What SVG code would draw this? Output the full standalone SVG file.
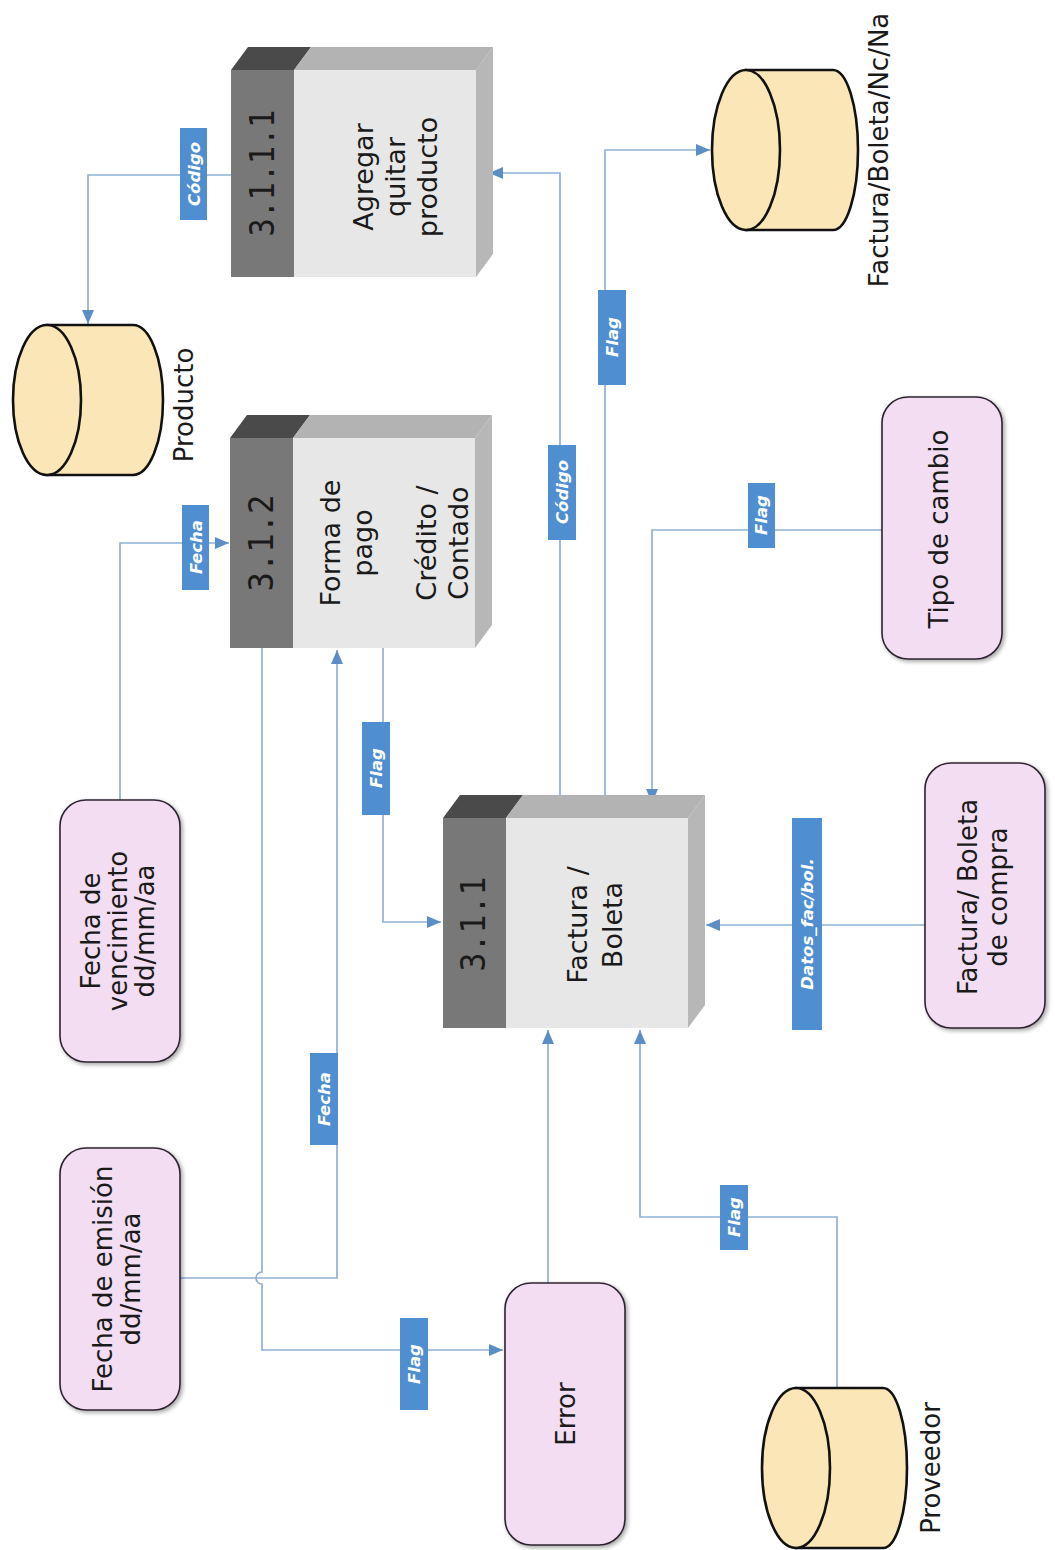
<svg xmlns="http://www.w3.org/2000/svg" width="1055" height="1550" viewBox="0 0 1055 1550">
<style>
.strip{fill:#787878}
.front{fill:#e7e7e7}
.topd{fill:#4a4a4a}
.topl{fill:#b3b3b3}
.side{fill:#b7b7b7}
.pid{font-family:"DejaVu Sans Mono",monospace;font-size:34px;fill:#1a1a1a;text-anchor:middle}
.ptxt{font-family:"DejaVu Sans",sans-serif;font-size:27px;fill:#1a1a1a;text-anchor:middle}
.ent{fill:#f3ddf3;stroke:#2e2430;stroke-width:1.6}
.etxt{font-family:"DejaVu Sans",sans-serif;font-size:26px;fill:#1a1a1a;text-anchor:middle}
.cyl{fill:#fbe6b8;stroke:#111;stroke-width:2.6}
.conn{fill:none;stroke:#8fb1d6;stroke-width:1.7}
.lbl{fill:#4f8ed0}
.ltxt{font-family:"DejaVu Sans",sans-serif;font-size:16.5px;font-weight:bold;font-style:italic;fill:#fff;text-anchor:middle}
</style>
<defs>
<marker id="arr" markerUnits="userSpaceOnUse" markerWidth="14" markerHeight="12" refX="14" refY="6" orient="auto">
<path d="M0,0 L14,6 L0,12 z" fill="#5b8ec6"/>
</marker>
<filter id="sh" x="-10%" y="-10%" width="130%" height="130%">
<feDropShadow dx="2" dy="2" stdDeviation="2" flood-color="#000" flood-opacity="0.35"/>
</filter>
</defs>

<g id="connectors">
<path class="conn" d="M231,175 H88 V324" marker-end="url(#arr)"/>
<path class="conn" d="M120,800 V543 H229" marker-end="url(#arr)"/>
<path class="conn" d="M180,1278 H337 V650" marker-end="url(#arr)"/>
<path class="conn" d="M262,648 V1272 A6,6 0 0 0 262,1284 V1350 H503" marker-end="url(#arr)"/>
<path class="conn" d="M383,648 V922 H441" marker-end="url(#arr)"/>
<path class="conn" d="M548,1283 V1030" marker-end="url(#arr)"/>
<path class="conn" d="M837,1388 V1217 H640 V1030" marker-end="url(#arr)"/>
<path class="conn" d="M925,925 H706" marker-end="url(#arr)"/>
<path class="conn" d="M882,530 H652 V803" marker-end="url(#arr)"/>
<path class="conn" d="M560,806 V173 H489" marker-end="url(#arr)"/>
<path class="conn" d="M605,806 V150 H710" marker-end="url(#arr)"/>

<rect class="lbl" x="180" y="128" width="27" height="92"/>
<text class="ltxt" transform="translate(199.5,174) rotate(-90)">Código</text>
<rect class="lbl" x="182" y="505" width="27" height="85"/>
<text class="ltxt" transform="translate(201.5,547) rotate(-90)">Fecha</text>
<rect class="lbl" x="548" y="445" width="28" height="95"/>
<text class="ltxt" transform="translate(568,492) rotate(-90)">Código</text>
<rect class="lbl" x="598" y="290" width="28" height="95"/>
<text class="ltxt" transform="translate(618,337) rotate(-90)">Flag</text>
<rect class="lbl" x="748" y="483" width="27" height="65"/>
<text class="ltxt" transform="translate(767,515) rotate(-90)">Flag</text>
<rect class="lbl" x="362" y="722" width="28" height="93"/>
<text class="ltxt" transform="translate(382,768) rotate(-90)">Flag</text>
<rect class="lbl" x="792" y="818" width="30" height="212"/>
<text class="ltxt" transform="translate(813,924) rotate(-90)">Datos_fac/bol.</text>
<rect class="lbl" x="310" y="1053" width="28" height="92"/>
<text class="ltxt" transform="translate(330,1099) rotate(-90)">Fecha</text>
<rect class="lbl" x="400" y="1318" width="28" height="92"/>
<text class="ltxt" transform="translate(420,1364) rotate(-90)">Flag</text>
<rect class="lbl" x="720" y="1185" width="28" height="65"/>
<text class="ltxt" transform="translate(740,1217) rotate(-90)">Flag</text>
</g>

<g id="p3111">
<polygon class="topd" points="231,70 294,70 311,47 248,47"/>
<polygon class="topl" points="294,70 476,70 493,47 311,47"/>
<polygon class="side" points="476,70 493,47 493,254 476,277"/>
<rect class="strip" x="231" y="70" width="63" height="207"/>
<rect class="front" x="294" y="70" width="182" height="207"/>
<text class="pid" transform="translate(274,173) rotate(-90)" textLength="127" lengthAdjust="spacingAndGlyphs">3.1.1.1</text>
<text class="ptxt" transform="translate(373,177) rotate(-90)"><tspan x="0" y="0">Agregar</tspan><tspan x="0" y="32">quitar</tspan><tspan x="0" y="64">producto</tspan></text>
</g>

<g id="p312">
<polygon class="topd" points="230,438 293,438 310,415 247,415"/>
<polygon class="topl" points="293,438 475,438 492,415 310,415"/>
<polygon class="side" points="475,438 492,415 492,625 475,648"/>
<rect class="strip" x="230" y="438" width="63" height="210"/>
<rect class="front" x="293" y="438" width="182" height="210"/>
<text class="pid" transform="translate(273,543) rotate(-90)" textLength="97" lengthAdjust="spacingAndGlyphs">3.1.2</text>
<text class="ptxt" transform="translate(340,543) rotate(-90)"><tspan x="0" y="0">Forma de</tspan><tspan x="0" y="32">pago</tspan><tspan x="0" y="96">Crédito /</tspan><tspan x="0" y="128">Contado</tspan></text>
</g>

<g id="p311">
<polygon class="topd" points="443,818 506,818 523,795 460,795"/>
<polygon class="topl" points="506,818 688,818 705,795 523,795"/>
<polygon class="side" points="688,818 705,795 705,1005 688,1028"/>
<rect class="strip" x="443" y="818" width="63" height="210"/>
<rect class="front" x="506" y="818" width="182" height="210"/>
<text class="pid" transform="translate(485,924) rotate(-90)" textLength="95" lengthAdjust="spacingAndGlyphs">3.1.1</text>
<text class="ptxt" transform="translate(587,925) rotate(-90)"><tspan x="0" y="0">Factura /</tspan><tspan x="0" y="35">Boleta</tspan></text>
</g>

<g id="producto">
<path class="cyl" d="M47,325 H133 A30,75 0 0 1 133,475 H47 Z"/>
<ellipse class="cyl" cx="47" cy="400" rx="34" ry="75"/>
<text class="etxt" transform="translate(193,405) rotate(-90)">Producto</text>
</g>

<g id="fbnn">
<path class="cyl" d="M746,70 H833 A25,80 0 0 1 833,230 H746 Z"/>
<ellipse class="cyl" cx="746" cy="150" rx="34" ry="80"/>
<text class="etxt" transform="translate(888,150) rotate(-90)">Factura/Boleta/Nc/Na</text>
</g>

<g id="proveedor">
<path class="cyl" d="M796,1388 H883 A24,80 0 0 1 883,1548 H796 Z"/>
<ellipse class="cyl" cx="796" cy="1468" rx="34" ry="80"/>
<text class="etxt" transform="translate(940,1468) rotate(-90)">Proveedor</text>
</g>

<g id="fvenc">
<rect class="ent" filter="url(#sh)" x="60" y="800" width="120" height="262" rx="26"/>
<text class="etxt" transform="translate(100,931) rotate(-90)"><tspan x="0" y="0">Fecha de</tspan><tspan x="0" y="27">vencimiento</tspan><tspan x="0" y="54">dd/mm/aa</tspan></text>
</g>

<g id="femision">
<rect class="ent" filter="url(#sh)" x="60" y="1148" width="120" height="262" rx="26"/>
<text class="etxt" transform="translate(112,1279) rotate(-90)"><tspan x="0" y="0">Fecha de emisión</tspan><tspan x="0" y="28">dd/mm/aa</tspan></text>
</g>

<g id="error">
<rect class="ent" filter="url(#sh)" x="505" y="1283" width="120" height="262" rx="26"/>
<text class="etxt" transform="translate(575,1414) rotate(-90)">Error</text>
</g>

<g id="tipocambio">
<rect class="ent" filter="url(#sh)" x="882" y="397" width="120" height="262" rx="26"/>
<text class="etxt" transform="translate(948,529) rotate(-90)">Tipo de cambio</text>
</g>

<g id="fcompra">
<rect class="ent" filter="url(#sh)" x="925" y="763" width="120" height="265" rx="26"/>
<text class="etxt" transform="translate(977,897) rotate(-90)"><tspan x="0" y="0">Factura/ Boleta</tspan><tspan x="0" y="30">de compra</tspan></text>
</g>
</svg>
